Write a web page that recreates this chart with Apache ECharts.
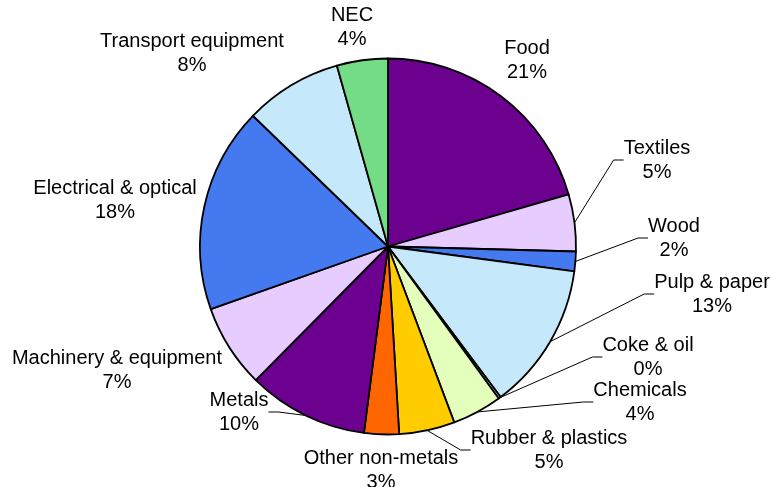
<!DOCTYPE html>
<html><head><meta charset="utf-8">
<script src="https://cdn.jsdelivr.net/npm/echarts@6/dist/echarts.min.js"></script>
<style>html,body{margin:0;padding:0;background:#fff}#c{width:772px;height:487px}</style>
</head><body><div id="c"></div><script>
const categories = ['Food','Textiles','Wood','Pulp & paper','Coke & oil','Chemicals','Rubber & plastics','Other non-metals','Metals','Machinery & equipment','Electrical & optical','Transport equipment','NEC'];
const shares = [20.6, 4.9, 1.7, 12.7, 0.2, 4.3, 4.8, 3.0, 10.4, 7.2, 17.7, 8.4, 4.4];
const colors = ['#6C008F','#E6CCFF','#4479F0','#C5E8FA','#C5E8FA','#E3FFBB','#FFCC00','#FF6600','#6C008F','#E6CCFF','#4479F0','#C5E8FA','#74DC86'];
const labelCenters = [[527,60],[657,160],[674,238],[712,294],[648,357],[640,402],[549,450],[381,470],[239,412],[117,370],[115,200],[192,53],[352,27]];
const leaderLines = ['Textiles','Wood','Pulp & paper','Coke & oil','Chemicals','Rubber & plastics','Metals'];

const total = shares.reduce((a,b)=>a+b,0);
const data = categories.map((name,i)=>({
  name, value: shares[i],
  itemStyle:{color:colors[i]},
  labelLine:{show: leaderLines.indexOf(name) >= 0}
}));
const chart = echarts.init(document.getElementById('c'), null, {renderer:'canvas'});
chart.setOption({
  animation:false,
  backgroundColor:'#fff',
  series:[{
    type:'pie',
    center:[388,246.5],
    radius:188,
    startAngle:90,
    clockwise:true,
    avoidLabelOverlap:false,
    minAngle:0,
    data,
    itemStyle:{borderColor:'#000',borderWidth:1.8},
    label:{
      show:true,position:'outside',
      fontFamily:'"Liberation Sans", Arial, sans-serif',
      fontSize:20,lineHeight:24,color:'#000',align:'center',
      formatter:p=>p.name+'\n'+Math.round(p.value/total*100)+'%'
    },
    labelLine:{length:10,length2:10,smooth:false,lineStyle:{color:'#000',width:1}},
    labelLayout:function(params){
      const c = labelCenters[params.dataIndex];
      return {x:c[0],y:c[1],align:'center',verticalAlign:'middle'};
    },
    emphasis:{disabled:true}
  }]
});
</script></body></html>
